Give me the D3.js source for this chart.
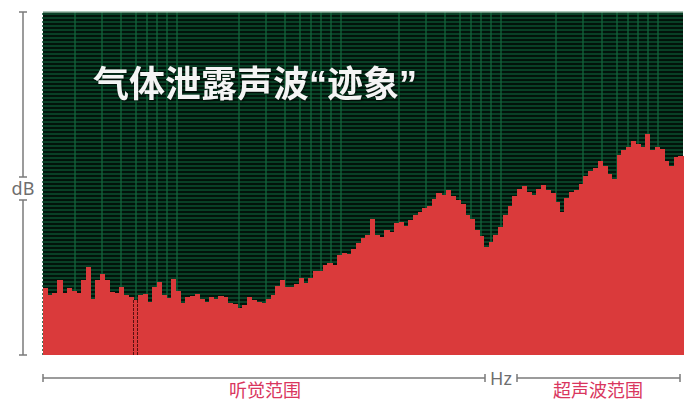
<!DOCTYPE html>
<html>
<head>
<meta charset="utf-8">
<script src="https://cdn.jsdelivr.net/npm/d3@7"></script>
<style>
    html, body { margin: 0; padding: 0; background: #fff; }
    svg { display: block; }
</style>
</head>
<body>
<div id="chart"></div>
<script>
// spectrum levels (dB, 0..100 of axis), one per frequency band
const levels = [
    19.6, 17.5, 18.2, 21.9, 18.2, 19.6, 18.7, 18.0, 21.9, 25.7,
    16.3, 21.9, 23.6, 21.9, 18.4, 18.0, 19.8, 17.5, 16.9, 16.0,
    17.5, 17.9, 15.5, 19.8, 21.3, 17.5, 16.6, 22.2, 18.7, 15.2,
    16.9, 17.2, 17.9, 16.3, 15.5, 16.9, 16.3, 17.2, 16.9, 15.2,
    14.9, 13.8, 14.6, 16.9, 16.0, 15.5, 15.2, 16.3, 17.5, 20.1,
    21.9, 19.8, 19.8, 20.7, 22.4, 21.0, 22.4, 24.5, 24.5, 26.2,
    26.8, 26.2, 29.2, 29.7, 29.4, 30.9, 32.7, 34.1, 35.0, 39.7,
    35.0, 34.4, 36.4, 35.9, 38.5, 38.8, 37.6, 39.4, 40.8, 41.7,
    42.9, 43.4, 45.5, 47.2, 46.6, 48.1, 46.4, 45.2, 44.0, 40.8,
    39.7, 36.4, 34.7, 31.5, 32.9, 35.0, 37.3, 40.8, 43.4, 46.4,
    48.4, 49.3, 47.5, 46.6, 48.4, 49.6, 48.1, 47.2, 44.6, 41.7,
    45.8, 47.5, 48.1, 49.9, 52.2, 53.6, 54.5, 56.6, 55.1, 52.8,
    51.3, 58.3, 59.8, 60.6, 62.4, 61.5, 60.6, 64.4, 59.8, 60.6,
    60.1, 56.6, 55.1, 57.7, 58.0
];
// the band drawn with a dashed outline
const markedBand = 19;
// vertical grid: start of each decade and the steps inside it (plot units)
const gridDecades = [32, 196, 356, 513];
const gridSteps = [0, 27, 46, 61, 72, 82, 92, 102];
const title = "气体泄露声波“迹象”";
const yLabel = "dB";
const xLabel = "Hz";
const rangeLabels = [
    { text: "听觉范围", at: 222 },
    { text: "超声波范围", at: 555 }
];

const width = 689
    , height = 401
    , plot = { left: 43, right: 683, top: 12, bottom: 355 }
    , xScale = d3.scaleBand()
        .domain(d3.range(levels.length))
        .range([plot.left, plot.right])
    , xGrid = d3.scaleLinear()
        .domain([0, 640])
        .range([plot.left, plot.right])
    , yScale = d3.scaleLinear()
        .domain([0, 100])
        .range([plot.bottom, plot.top])
    , svg = d3.select("#chart")
        .append("svg")
        .attr("width", width)
        .attr("height", height)
        .style("font-family", "'Noto Sans CJK SC', 'Noto Sans', sans-serif");

// background
svg.append("rect")
    .attr("x", plot.left)
    .attr("y", plot.top)
    .attr("width", plot.right - plot.left)
    .attr("height", plot.bottom - plot.top)
    .attr("fill", "#02140b");

// horizontal grid, one line every ~4px
const hStep = 4 / ((plot.bottom - plot.top) / 100);
svg.append("g")
    .selectAll("line")
    .data(d3.range(100, 0, -hStep))
    .enter()
    .append("line")
    .attr("x1", plot.left - 1)
    .attr("x2", plot.right)
    .attr("y1", d => yScale(d) + 2)
    .attr("y2", d => yScale(d) + 2)
    .attr("stroke", "#0d4f30")
    .attr("stroke-width", 1.4);

// vertical grid
const gridLines = gridDecades.flatMap(s => gridSteps.map(o => s + o));
svg.append("g")
    .selectAll("line")
    .data(gridLines)
    .enter()
    .append("line")
    .attr("x1", d => xGrid(d))
    .attr("x2", d => xGrid(d))
    .attr("y1", plot.top)
    .attr("y2", plot.bottom)
    .attr("stroke", "#13663d")
    .attr("stroke-width", 1.3);

// top border
svg.append("line")
    .attr("x1", plot.left)
    .attr("x2", plot.right)
    .attr("y1", plot.top)
    .attr("y2", plot.top)
    .attr("stroke", "#8fb3a0")
    .attr("stroke-width", 1.5);

// bars
svg.append("g")
    .attr("shape-rendering", "crispEdges")
    .selectAll("rect")
    .data(levels)
    .enter()
    .append("rect")
    .attr("x", (d, i) => xScale(i))
    .attr("y", d => yScale(d))
    .attr("width", xScale.bandwidth() + 0.6)
    .attr("height", d => yScale(0) - yScale(d))
    .attr("fill", "#da3a3b");

// dashed outline on the marked band
svg.append("g")
    .attr("shape-rendering", "crispEdges")
    .selectAll("line")
    .data([xScale(markedBand) + 0.5, xScale(markedBand) + xScale.bandwidth() - 0.5])
    .enter()
    .append("line")
    .attr("x1", d => d)
    .attr("x2", d => d)
    .attr("y1", yScale(levels[markedBand]))
    .attr("y2", yScale(0))
    .attr("stroke", "#5a0f0f")
    .attr("stroke-width", 1)
    .attr("stroke-dasharray", "3,1");

// title
svg.append("text")
    .attr("x", 93)
    .attr("y", 97)
    .attr("fill", "#f4f4f4")
    .attr("font-size", 36)
    .attr("font-weight", "bold")
    .style("font-family", "'Liberation Sans', 'Noto Sans CJK SC', sans-serif")
    .style("filter", "drop-shadow(1px 1px 1px rgba(0,0,0,0.6))")
    .text(title);

// y axis with a gap for the label
const axisColor = "#7a7a7a";
const yAxis = svg.append("g")
    .attr("stroke", axisColor)
    .attr("stroke-width", 1.5);
[[plot.top, 177], [200, plot.bottom]].forEach(([a, b]) => {
    yAxis.append("line").attr("x1", 23).attr("x2", 23).attr("y1", a).attr("y2", b);
    yAxis.append("line").attr("x1", 19).attr("x2", 27).attr("y1", a).attr("y2", a);
    yAxis.append("line").attr("x1", 19).attr("x2", 27).attr("y1", b).attr("y2", b);
});
svg.append("text")
    .attr("x", 23)
    .attr("y", 195)
    .attr("text-anchor", "middle")
    .attr("fill", "#6e6e6e")
    .attr("font-size", 18)
    .style("font-family", "'Noto Sans', sans-serif")
    .text(yLabel);

// x axis with a gap for the label
const xAxis = svg.append("g")
    .attr("stroke", axisColor)
    .attr("stroke-width", 1.5);
[[plot.left, 485], [517, 680]].forEach(([a, b]) => {
    xAxis.append("line").attr("x1", a).attr("x2", b).attr("y1", 378).attr("y2", 378);
    xAxis.append("line").attr("x1", a).attr("x2", a).attr("y1", 374).attr("y2", 382);
    xAxis.append("line").attr("x1", b).attr("x2", b).attr("y1", 374).attr("y2", 382);
});
svg.append("text")
    .attr("x", 501)
    .attr("y", 384.5)
    .attr("text-anchor", "middle")
    .attr("fill", "#6e6e6e")
    .attr("font-size", 18)
    .style("font-family", "'Noto Sans', sans-serif")
    .text(xLabel);

// range labels
svg.append("g")
    .selectAll("text")
    .data(rangeLabels)
    .enter()
    .append("text")
    .attr("x", d => xGrid(d.at))
    .attr("y", 397)
    .attr("text-anchor", "middle")
    .attr("fill", "#d9365e")
    .attr("font-size", 18)
    .text(d => d.text);
</script>
</body>
</html>
